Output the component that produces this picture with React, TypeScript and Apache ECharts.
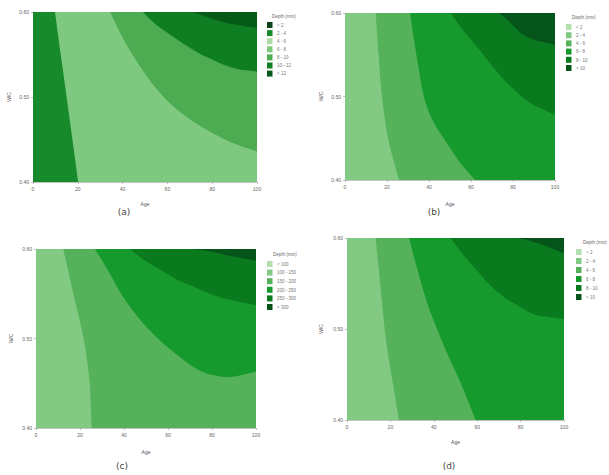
import React, { useEffect, useRef } from 'react';
import * as echarts from 'echarts';

type Pt = [number, number];

// ---------- axis ranges & ticks ----------
const AGE_MIN = 0;
const AGE_MAX = 100;
const AGE_STEP = 20;
const WC_MIN = 0.4;
const WC_MAX = 0.6;
const WC_STEP = 0.1;

// ---------- panel (a) contour edges (Age, W/C) ----------
const aEdgeLeft: Pt[] = [[9.8, 0.6], [12.4, 0.55], [15.0, 0.5], [17.6, 0.45], [20.2, 0.4]];
const aEdge1: Pt[] = [[34.4, 0.6], [41, 0.565], [47.8, 0.536], [55, 0.51], [62.6, 0.489], [71, 0.472], [80.5, 0.457], [90, 0.445], [100, 0.436]];
const aEdge2: Pt[] = [[49.1, 0.6], [55, 0.585], [62.6, 0.571], [70, 0.558], [77.5, 0.547], [89.4, 0.534], [100, 0.53]];
const aEdge3: Pt[] = [[71.5, 0.6], [78, 0.594], [86.5, 0.587], [100, 0.581]];

// ---------- panel (b) ----------
const bEdge1: Pt[] = [[14.6, 0.6], [16, 0.55], [17.6, 0.5], [20.5, 0.45], [25.7, 0.4]];
const bEdge2: Pt[] = [[31, 0.6], [34, 0.55], [37.6, 0.5], [42, 0.47], [48.6, 0.444], [55, 0.42], [62, 0.4]];
const bEdge3: Pt[] = [[50.3, 0.6], [56, 0.58], [63, 0.559], [69, 0.54], [75.7, 0.52], [82, 0.505], [88.4, 0.492], [100, 0.478]];
const bEdge4: Pt[] = [[73.3, 0.6], [78, 0.59], [83.7, 0.576], [90, 0.568], [100, 0.562]];

// ---------- panel (c) ----------
const cEdge1: Pt[] = [[12.4, 0.6], [17, 0.55], [21.5, 0.502], [23.5, 0.47], [24.5, 0.446], [25.3, 0.4]];
const cEdge2: Pt[] = [[26.8, 0.6], [33, 0.575], [39.7, 0.546], [46, 0.525], [51.8, 0.509], [58, 0.494], [65.5, 0.479], [71, 0.469], [77.6, 0.461], [86.7, 0.457], [93, 0.459], [100, 0.463]];
const cEdge3: Pt[] = [[42.7, 0.6], [49, 0.588], [56.4, 0.577], [64, 0.566], [71.5, 0.558], [79, 0.55], [86.7, 0.544], [100, 0.537]];
const cEdge4: Pt[] = [[71.5, 0.6], [80, 0.597], [86.7, 0.593], [100, 0.587]];

// ---------- panel (d) ----------
const dEdge1: Pt[] = [[13.2, 0.6], [15.5, 0.545], [17.8, 0.491], [20.8, 0.445], [24, 0.4]];
const dEdge2: Pt[] = [[28.6, 0.6], [32.5, 0.565], [37, 0.528], [41.5, 0.5], [46.2, 0.473], [52.5, 0.44], [59.3, 0.4]];
const dEdge3: Pt[] = [[47.8, 0.6], [53.5, 0.582], [60, 0.564], [66, 0.548], [72.4, 0.535], [80, 0.524], [87.7, 0.515], [100, 0.511]];
const dEdge4: Pt[] = [[78.5, 0.6], [84, 0.597], [90.8, 0.592], [100, 0.583]];

// ---------- legend labels ----------
const legendTitle = 'Depth (mm)';
const aLegend = ['< 2', '2 - 4', '4 - 6', '6 - 8', '8 - 10', '10 - 12', '> 12'];
const bLegend = ['< 2', '2 - 4', '4 - 6', '6 - 8', '8 - 10', '> 10'];
const cLegend = ['< 100', '100 - 150', '150 - 200', '200 - 250', '250 - 300', '> 300'];
const dLegend = ['< 2', '2 - 4', '4 - 6', '6 - 8', '8 - 10', '> 10'];
const captions = ['(a)', '(b)', '(c)', '(d)'];

// ---------- styles ----------
const aLegendColors = ['#0a4418', '#178a2b', '#a9dca7', '#7ec87f', '#4dac52', '#0f7d21', '#065a18'];
const sixColors = ['#b2e0af', '#82c983', '#55b25a', '#169a2d', '#0a7a1f', '#05541a'];

const CORNER_TL: Pt = [AGE_MIN, WC_MAX];
const CORNER_BL: Pt = [AGE_MIN, WC_MIN];
const CORNER_TR: Pt = [AGE_MAX, WC_MAX];
const CORNER_BR: Pt = [AGE_MAX, WC_MIN];
const FULL: Pt[] = [CORNER_BL, CORNER_BR, CORNER_TR, CORNER_TL];
const RIGHT_SIDE: Pt[] = [CORNER_BR, CORNER_TR];
const TOP_RIGHT: Pt[] = [CORNER_TR];
const LEFT_SIDE: Pt[] = [CORNER_BL, CORNER_TL];

type Region = { edge: Pt[]; close: Pt[]; color: string };

const panelRegions: Region[][] = [
  [
    { edge: [], close: FULL, color: aLegendColors[3] },
    { edge: aEdgeLeft, close: LEFT_SIDE, color: aLegendColors[1] },
    { edge: aEdge1, close: TOP_RIGHT, color: aLegendColors[4] },
    { edge: aEdge2, close: TOP_RIGHT, color: aLegendColors[5] },
    { edge: aEdge3, close: TOP_RIGHT, color: aLegendColors[6] },
  ],
  [
    { edge: [], close: FULL, color: sixColors[1] },
    { edge: bEdge1, close: RIGHT_SIDE, color: sixColors[2] },
    { edge: bEdge2, close: RIGHT_SIDE, color: sixColors[3] },
    { edge: bEdge3, close: TOP_RIGHT, color: sixColors[4] },
    { edge: bEdge4, close: TOP_RIGHT, color: sixColors[5] },
  ],
  [
    { edge: [], close: FULL, color: sixColors[1] },
    { edge: cEdge1, close: RIGHT_SIDE, color: sixColors[2] },
    { edge: cEdge2, close: TOP_RIGHT, color: sixColors[3] },
    { edge: cEdge3, close: TOP_RIGHT, color: sixColors[4] },
    { edge: cEdge4, close: TOP_RIGHT, color: sixColors[5] },
  ],
  [
    { edge: [], close: FULL, color: sixColors[1] },
    { edge: dEdge1, close: RIGHT_SIDE, color: sixColors[2] },
    { edge: dEdge2, close: RIGHT_SIDE, color: sixColors[3] },
    { edge: dEdge3, close: TOP_RIGHT, color: sixColors[4] },
    { edge: dEdge4, close: TOP_RIGHT, color: sixColors[5] },
  ],
];

const grids = [
  { left: 33, top: 12, width: 224, height: 170 },
  { left: 345, top: 13, width: 210, height: 167 },
  { left: 36, top: 249, width: 220, height: 179 },
  { left: 347, top: 238, width: 217, height: 182 },
];
const xNameGaps = [19, 21, 21, 19];
const yNameGaps = [22, 22, 23, 24];

const legends = [
  { labels: aLegend, colors: aLegendColors, x: 267, y: 22, step: 8.1, titleX: 272, titleY: 14 },
  { labels: bLegend, colors: sixColors, x: 566, y: 24, step: 8.2, titleX: 572, titleY: 15 },
  { labels: cLegend, colors: sixColors, x: 267, y: 261, step: 8.6, titleX: 273, titleY: 252 },
  { labels: dLegend, colors: sixColors, x: 576, y: 249, step: 9, titleX: 583, titleY: 240 },
];
const captionPos: Pt[] = [[124, 212], [434, 212], [122, 466], [449, 466]];

const FONT = 'Liberation Sans';

function smoothPath(pts: number[][]): string {
  let d = `M${pts[0][0]},${pts[0][1]}`;
  for (let i = 0; i < pts.length - 1; i++) {
    const p0 = pts[i - 1] || pts[i];
    const p1 = pts[i];
    const p2 = pts[i + 1];
    const p3 = pts[i + 2] || p2;
    const c1x = p1[0] + (p2[0] - p0[0]) / 6;
    const c1y = p1[1] + (p2[1] - p0[1]) / 6;
    const c2x = p2[0] - (p3[0] - p1[0]) / 6;
    const c2y = p2[1] - (p3[1] - p1[1]) / 6;
    d += ` C${c1x},${c1y} ${c2x},${c2y} ${p2[0]},${p2[1]}`;
  }
  return d;
}

function makeRenderItem(region: Region) {
  return (_params: any, api: any) => {
    const e = region.edge.map((p) => api.coord(p));
    const c = region.close.map((p) => api.coord(p));
    let d = e.length ? smoothPath(e) : `M${c[0][0]},${c[0][1]}`;
    const rest = e.length ? c : c.slice(1);
    rest.forEach((p: number[]) => {
      d += ` L${p[0]},${p[1]}`;
    });
    d += ' Z';
    return { type: 'path', shape: { pathData: d }, style: { fill: region.color }, silent: true };
  };
}

export default function App() {
  const ref = useRef<HTMLDivElement>(null);
  useEffect(() => {
    if (!ref.current) return;
    const chart = echarts.init(ref.current, null, { renderer: 'svg' });
    const axisLine = { show: true, lineStyle: { color: '#9a9a9a', width: 0.6 } };
    const axisTick = { show: true, length: 2, lineStyle: { color: '#9a9a9a', width: 0.6 } };
    const labelStyle = { fontSize: 5, color: '#666', fontFamily: FONT };

    const xAxis = grids.map((_, i) => ({
      gridIndex: i,
      type: 'value',
      min: AGE_MIN,
      max: AGE_MAX,
      interval: AGE_STEP,
      name: 'Age',
      nameLocation: 'middle',
      nameGap: xNameGaps[i],
      nameTextStyle: { fontSize: 5, color: '#555', fontFamily: FONT },
      axisLine,
      axisTick,
      axisLabel: { ...labelStyle, margin: 4 },
      splitLine: { show: false },
    }));
    const yAxis = grids.map((_, i) => ({
      gridIndex: i,
      type: 'value',
      min: WC_MIN,
      max: WC_MAX,
      interval: WC_STEP,
      name: 'W/C',
      nameLocation: 'middle',
      nameGap: yNameGaps[i],
      nameTextStyle: { fontSize: 5, color: '#555', fontFamily: FONT },
      axisLine,
      axisTick,
      axisLabel: { ...labelStyle, margin: 4, formatter: (v: number) => v.toFixed(2) },
      splitLine: { show: false },
    }));

    const series: any[] = [];
    panelRegions.forEach((regions, i) => {
      regions.forEach((r) => {
        series.push({
          type: 'custom',
          xAxisIndex: i,
          yAxisIndex: i,
          data: [[AGE_MIN, WC_MIN]],
          renderItem: makeRenderItem(r),
          clip: true,
          silent: true,
          z: 2,
        });
      });
    });

    const graphic: any[] = [];
    legends.forEach((lg) => {
      graphic.push({
        type: 'text',
        x: lg.titleX,
        y: lg.titleY,
        style: { text: legendTitle, fontSize: 4.5, fill: '#666', fontFamily: FONT },
      });
      lg.labels.forEach((lab, k) => {
        graphic.push({
          type: 'rect',
          shape: { x: lg.x, y: lg.y + k * lg.step, width: 5.5, height: 6 },
          style: { fill: lg.colors[k] },
        });
        graphic.push({
          type: 'text',
          x: lg.x + 10,
          y: lg.y + k * lg.step + 0.8,
          style: { text: lab, fontSize: 4.5, fill: '#777', fontFamily: FONT },
        });
      });
    });
    captions.forEach((t, i) => {
      graphic.push({
        type: 'text',
        x: captionPos[i][0],
        y: captionPos[i][1],
        style: {
          text: t,
          fontSize: 9,
          fill: '#444',
          fontFamily: 'DejaVu Sans',
          textAlign: 'center',
          textVerticalAlign: 'middle',
        },
      });
    });

    chart.setOption({
      animation: false,
      backgroundColor: '#ffffff',
      grid: grids.map((g) => ({ ...g, containLabel: false })),
      xAxis,
      yAxis,
      series,
      graphic,
    });
    return () => chart.dispose();
  }, []);
  return (
    <div
      ref={ref}
      style={{ position: 'absolute', left: 0, top: 0, width: 609, height: 475, background: '#fff' }}
    />
  );
}
